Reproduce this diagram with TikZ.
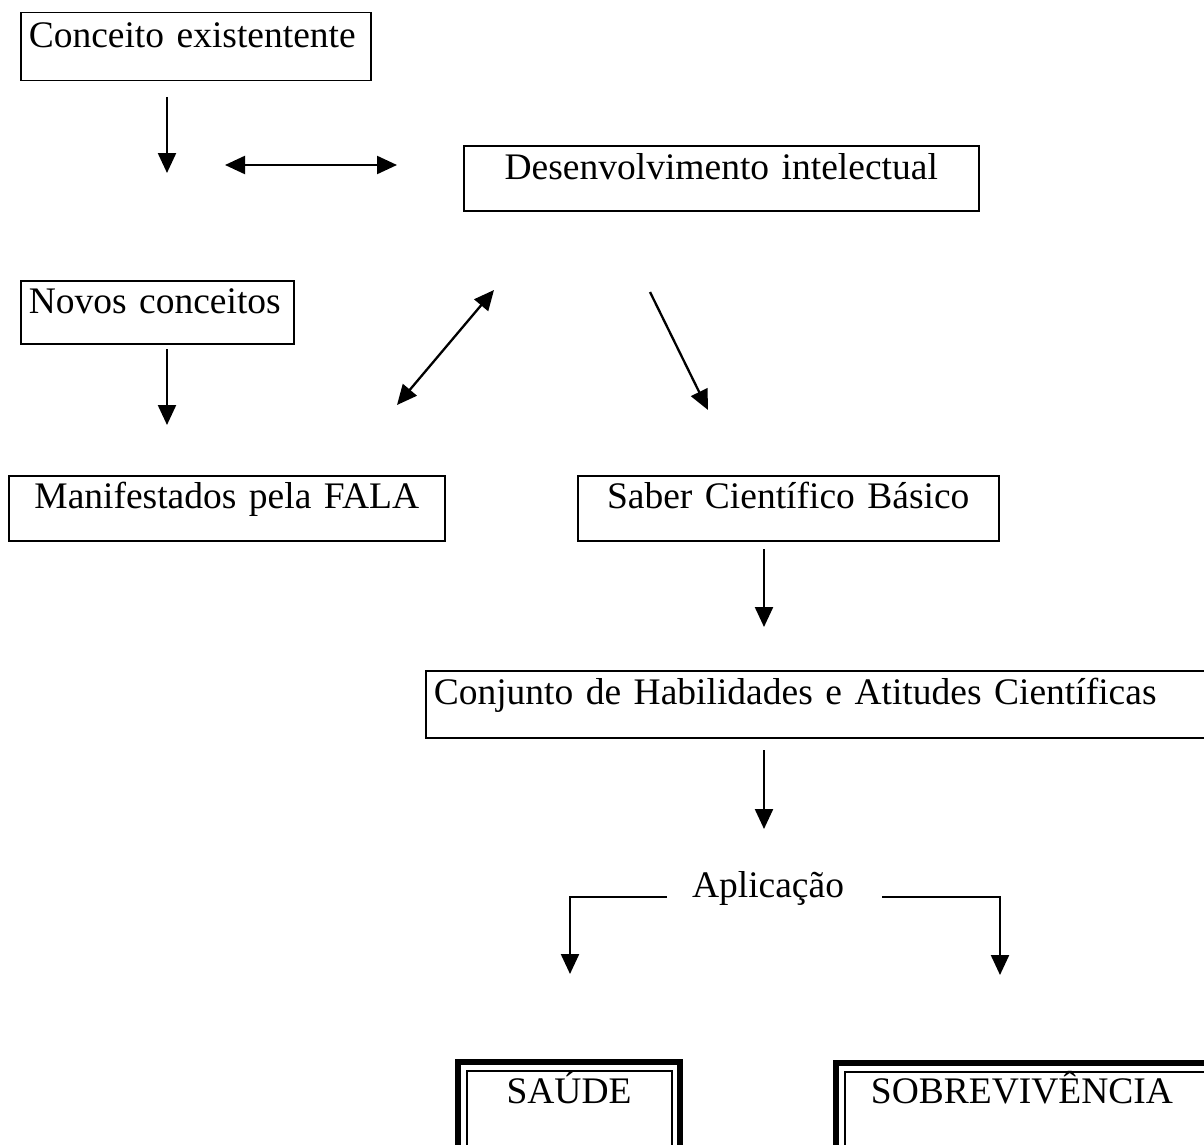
\documentclass[tikz,border=0pt]{standalone}
\usepackage{fontspec}
\setmainfont{Liberation Serif}
\usetikzlibrary{arrows.meta}
\tikzset{
  txt/.style={font=\fontsize{37.5}{45}\selectfont},
  box/.style={draw, line width=1.5pt, inner ysep=0pt, txt},
  arr/.style={line width=2.3pt, -{Triangle[length=20pt,width=18pt]}},
  darr/.style={line width=2.3pt, {Triangle[length=20pt,width=18pt]}-{Triangle[length=20pt,width=18pt]}},
  outerframe/.style={draw, line width=5.5pt},
  innerframe/.style={draw, line width=1.5pt}
}
\begin{document}
\begin{tikzpicture}[x=1pt,y=-1pt]
\useasboundingbox (0,0) rectangle (1204,1145);
% boxes: top-left anchored, text near the top
\node[box, anchor=north west, text width=334pt, inner xsep=8pt, align=left,
      text height=35pt, text depth=33pt] (ce) at (20,12) {Conceito existentente};
\node[box, anchor=north west, text width=499pt, inner xsep=8pt, align=center,
      text height=34pt, text depth=31pt] (di) at (463,145) {Desenvolvimento intelectual};
\node[box, anchor=north west, text width=257pt, inner xsep=8pt, align=left,
      text height=33pt, text depth=30pt] (nc) at (20,280) {Novos conceitos};
\node[box, anchor=north west, text width=420pt, inner xsep=8pt, align=center,
      text height=33pt, text depth=32pt] (mf) at (8,475) {Manifestados pela FALA};
\node[box, anchor=north west, text width=405pt, inner xsep=8pt, align=center,
      text height=33pt, text depth=32pt] (sb) at (577,475) {Saber Científico Básico};
\node[box, anchor=north west, text width=769pt, inner xsep=8pt, align=left,
      text height=34pt, text depth=33pt] (ch) at (425,670) {Conjunto de Habilidades e Atitudes Científicas};
\node[txt, anchor=base] (ap) at (768,897) {Aplicação};

% double-framed boxes
\draw[outerframe] (458,1062) rectangle (680,1152);
\node[innerframe, anchor=north west, minimum width=205pt, minimum height=80pt,
      inner sep=0pt] (sa) at (466,1070) {};
\node[txt, anchor=base] (saT) at (569,1103) {SAÚDE};
\draw[outerframe] (836,1063) rectangle (1215,1152);
\node[innerframe, anchor=north west, minimum width=380pt, minimum height=80pt,
      inner sep=0pt] (so) at (844,1071) {};
\node[txt, anchor=base] (soT) at (1022,1103) {SOBREVIVÊNCIA};

% arrow end points
\coordinate (p1s) at (167,97);  \coordinate (p1e) at (167,173);
\coordinate (p2s) at (225,165); \coordinate (p2e) at (397,165);
\coordinate (p3s) at (397,405); \coordinate (p3e) at (494,290);
\coordinate (p4s) at (650,292); \coordinate (p4e) at (708,410);
\coordinate (p5s) at (167,349); \coordinate (p5e) at (167,425);
\coordinate (p6s) at (764,549); \coordinate (p6e) at (764,627);
\coordinate (p7s) at (764,750); \coordinate (p7e) at (764,829);
\coordinate (p8s) at (667,897); \coordinate (p8e) at (570,974);
\coordinate (p9s) at (882,897); \coordinate (p9e) at (1000,975);

\draw[arr] (p1s) -- (p1e);
\draw[darr] (p2s) -- (p2e);
\draw[darr] (p3s) -- (p3e);
\draw[arr] (p4s) -- (p4e);
\draw[arr] (p5s) -- (p5e);
\draw[arr] (p6s) -- (p6e);
\draw[arr] (p7s) -- (p7e);
\draw[arr] (p8s) -| (p8e);
\draw[arr] (p9s) -| (p9e);
\end{tikzpicture}
\end{document}
